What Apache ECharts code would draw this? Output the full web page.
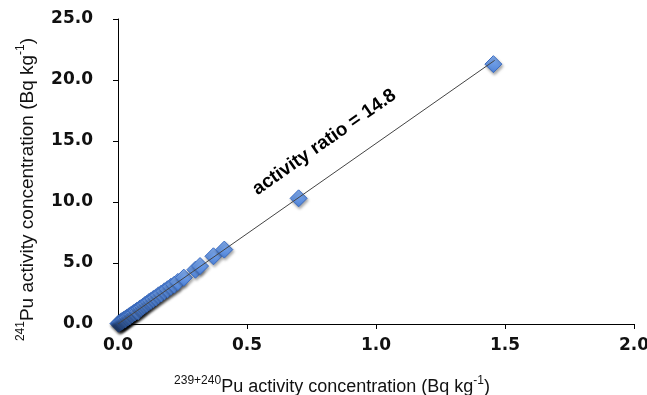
<!DOCTYPE html>
<html>
<head>
<meta charset="utf-8">
<script src="https://cdn.jsdelivr.net/npm/echarts@6/dist/echarts.min.js"></script>
<style>
html,body{margin:0;padding:0;background:#fff;}
#chart{width:647px;height:395px;}
</style>
</head>
<body>
<div id="chart"></div>
<script>
// 239+240Pu activity concentration (Bq/kg)
var puX = [0.002,0.004,0.006,0.008,0.010,0.012,0.014,0.016,0.019,0.022,0.025,0.028,0.031,0.035,0.039,0.043,0.047,0.052,0.056,0.061,0.066,0.072,0.078,0.084,0.090,0.097,0.104,0.112,0.120,0.128,0.137,0.147,0.157,0.168,0.180,0.192,0.205,0.218,0.232,0.255,0.300,0.318,0.370,0.412,0.700,1.455];
// 241Pu activity concentration (Bq/kg)
var puY = [0.03,0.06,0.08,0.12,0.14,0.18,0.20,0.25,0.27,0.33,0.36,0.40,0.43,0.52,0.55,0.63,0.66,0.77,0.80,0.90,0.95,1.07,1.05,1.25,1.32,1.43,1.55,1.66,1.80,1.90,2.05,2.18,2.35,2.50,2.68,2.85,3.05,3.22,3.45,3.80,4.45,4.75,5.55,6.10,10.30,21.30];
// fitted activity ratio line endpoints
var fitX = [0, 1.46];
var ratio = 14.8;
var xTicks = ['0.0','0.5','1.0','1.5','2.0'];
var yTicks = ['0.0','5.0','10.0','15.0','20.0','25.0'];
var annoText = 'activity ratio = 14.8';
var annoPos = [0.80, 14.9];

var pts = puX.map(function(x,i){return [x, puY[i]];});
var fit = fitX.map(function(x){return [x, x*ratio];});

var chart = echarts.init(document.getElementById('chart'));
chart.setOption({
  backgroundColor:'#fff',
  animation:false,
  grid:{left:118,right:13,top:19,bottom:71,containLabel:false,outerBoundsMode:'none'},
  xAxis:{
    type:'value',min:0,max:2,interval:0.5,
    axisLine:{onZero:false,lineStyle:{color:'#000',width:1}},
    axisTick:{show:true,inside:false,length:5,lineStyle:{color:'#000'}},
    splitLine:{show:false},
    axisLabel:{margin:13,color:'#111',fontFamily:'DejaVu Sans',fontWeight:'bold',fontSize:17,
      formatter:function(v){return xTicks[Math.round(v/0.5)];}},
    name:'{sup|239+240}{n|Pu activity concentration (Bq kg}{sup|-1}{n|)}',
    nameLocation:'middle',nameGap:51,
    nameTextStyle:{padding:[0,88,0,0],rich:{
      n:{fontFamily:'Liberation Sans',fontSize:18,color:'#111',verticalAlign:'bottom',lineHeight:21},
      sup:{fontFamily:'Liberation Sans',fontSize:12,color:'#111',verticalAlign:'top',lineHeight:21,padding:[0,0,8,0]}
    }}
  },
  yAxis:{
    type:'value',min:0,max:25,interval:5,
    axisLine:{show:true,onZero:false,lineStyle:{color:'#000',width:1}},
    axisTick:{show:true,inside:false,length:5,lineStyle:{color:'#000'}},
    splitLine:{show:false},
    axisLabel:{margin:25,color:'#111',fontFamily:'DejaVu Sans',fontWeight:'bold',fontSize:17,
      formatter:function(v){return yTicks[Math.round(v/5)];}},
    name:'{sup|241}{n|Pu activity concentration (Bq kg}{sup|-1}{n|)}',
    nameLocation:'middle',nameGap:81,nameRotate:90,
    nameTextStyle:{padding:[0,36,0,0],rich:{
      n:{fontFamily:'Liberation Sans',fontSize:19,color:'#111',verticalAlign:'bottom',lineHeight:22},
      sup:{fontFamily:'Liberation Sans',fontSize:12,color:'#111',verticalAlign:'top',lineHeight:22,padding:[0,0,9,0]}
    }}
  },
  series:[
    {
      type:'line',data:fit,symbol:'none',silent:true,z:3,
      lineStyle:{color:'#444',width:1}
    },
    {
      type:'scatter',data:pts,symbol:'diamond',symbolSize:17,z:2,
      itemStyle:{
        opacity:1,
        color:new echarts.graphic.LinearGradient(0,0,0,1,[{offset:0,color:'#86b0f0'},{offset:1,color:'#4d82d8'}]),
        borderColor:'#3b6cc2',borderWidth:1,
        shadowBlur:3,shadowColor:'rgba(0,0,0,0.35)',shadowOffsetX:1,shadowOffsetY:2
      }
    },
    {
      type:'scatter',data:[annoPos],symbolSize:0,silent:true,z:5,
      itemStyle:{opacity:1},
      label:{show:true,position:'inside',formatter:annoText,rotate:35,
        fontFamily:'Liberation Sans',fontWeight:'bold',fontSize:19,color:'#000'}
    }
  ]
});
</script>
</body>
</html>
